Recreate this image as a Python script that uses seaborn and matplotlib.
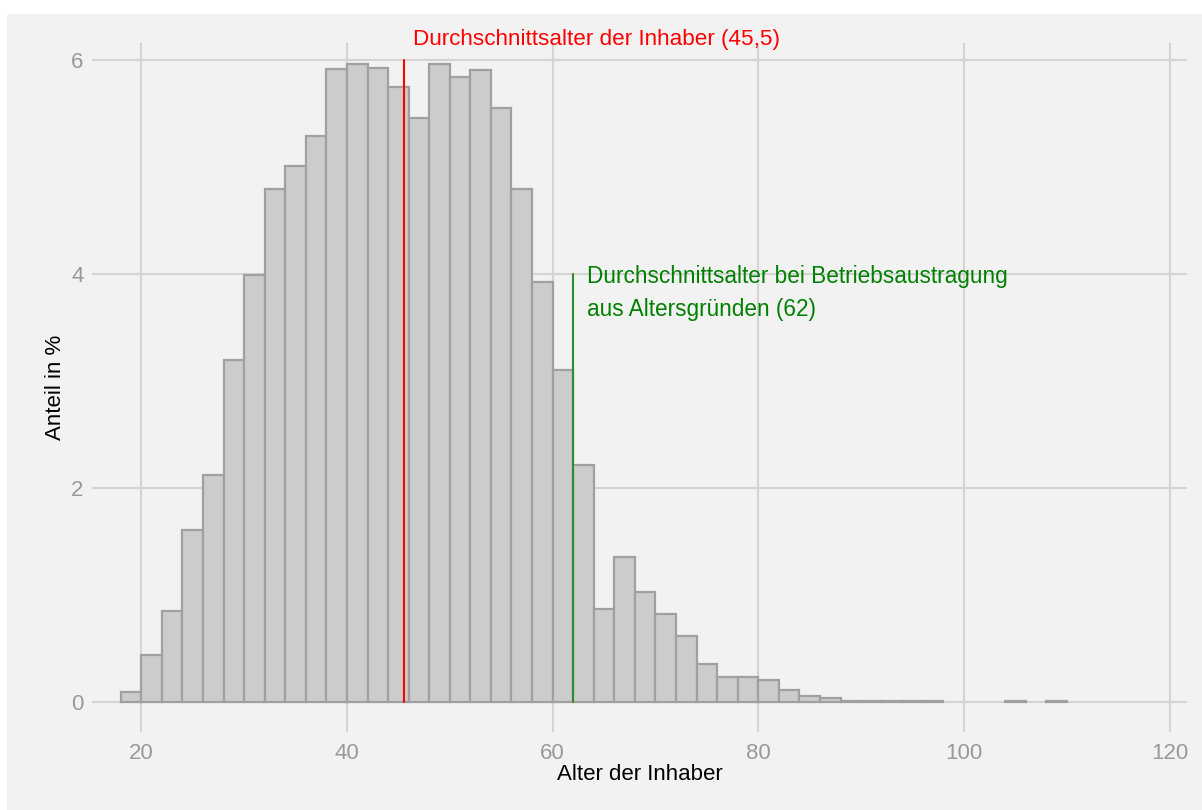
import numpy as np
import pandas as pd
import seaborn as sns
import matplotlib.pyplot as plt
from matplotlib.patches import Rectangle

# Altersverteilung der Inhaber, 2-Jahres-Klassen (Anteil in %)
age_start = [18, 20, 22, 24, 26, 28, 30, 32, 34, 36, 38, 40, 42, 44, 46, 48, 50, 52, 54, 56,
             58, 60, 62, 64, 66, 68, 70, 72, 74, 76, 78, 80, 82, 84, 86, 88, 90, 92, 94, 96,
             98, 100, 102, 104, 106, 108]
share = [0.09, 0.44, 0.85, 1.61, 2.12, 3.20, 3.99, 4.80, 5.01, 5.29, 5.92, 5.96, 5.93, 5.75,
         5.46, 5.96, 5.84, 5.91, 5.55, 4.80, 3.93, 3.10, 2.22, 0.87, 1.36, 1.03, 0.82, 0.62,
         0.36, 0.23, 0.23, 0.21, 0.11, 0.056, 0.04, 0.012, 0.006, 0.006, 0.006, 0.006,
         0, 0, 0, 0.006, 0, 0.006]

mean_owner = 45.5
mean_retire = 62

df = pd.DataFrame({'age': np.array(age_start) + 1, 'share': share})

sns.set_style('whitegrid')
plt.rcParams['font.family'] = ['Liberation Sans', 'DejaVu Sans']

fig = plt.figure(figsize=(12.02, 8.10), dpi=100, facecolor='white')
fig.patches.append(Rectangle((7 / 1202, 0), 1, 1 - 14 / 810, transform=fig.transFigure,
                             facecolor='#f2f2f2', edgecolor='none', zorder=-10))
ax = fig.add_axes([92 / 1202, 1 - 732 / 810, (1187 - 92) / 1202, (732 - 43) / 810])
ax.set_facecolor('#f2f2f2')

sns.histplot(data=df, x='age', weights='share', binwidth=2, binrange=(18, 110),
             color='#cccccc', edgecolor='#a0a0a0', linewidth=1.6, alpha=1, ax=ax)
# leere Klassen nicht zeichnen
for p in ax.patches:
    if p.get_height() == 0:
        p.set_visible(False)

ax.plot([mean_owner, mean_owner], [0, 6], color='red', lw=1.5, zorder=3)
ax.plot([mean_retire, mean_retire], [0, 4], color='#2e8b2e', lw=1.5, zorder=3)
ax.text(mean_owner + 0.9, 6.19, 'Durchschnittsalter der Inhaber (45,5)', color='red',
        fontsize=16.2, va='center', ha='left')
ax.text(mean_retire + 1.3, 3.98, 'Durchschnittsalter bei Betriebsaustragung', color='green',
        fontsize=16.3, va='center', ha='left')
ax.text(mean_retire + 1.3, 3.67, 'aus Altersgründen (62)', color='green',
        fontsize=16.3, va='center', ha='left')

ax.set_xlim(15.2, 121.7)
ax.set_ylim(-0.28, 6.16)
ax.set_xticks([20, 40, 60, 80, 100, 120])
ax.set_yticks([0, 2, 4, 6])
ax.grid(True, color='#d4d4d4', linewidth=1.5)
ax.set_axisbelow(True)
for s in ax.spines.values():
    s.set_visible(False)
ax.tick_params(axis='both', length=0, labelsize=16, labelcolor='#999999')
ax.tick_params(axis='x', pad=8)
ax.tick_params(axis='y', pad=6)
ax.set_xlabel('Alter der Inhaber', fontsize=16, color='black', labelpad=0)
ax.set_ylabel('Anteil in %', fontsize=16, color='black', labelpad=4)

fig.savefig('out.png', dpi=100, facecolor='white')
